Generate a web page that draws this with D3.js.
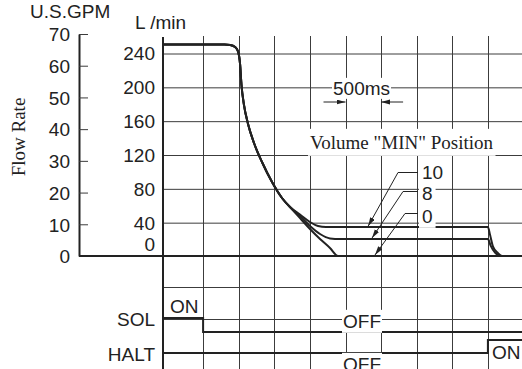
<!DOCTYPE html>
<html><head><meta charset="utf-8">
<script src="https://cdn.jsdelivr.net/npm/d3@7"></script>
<style>html,body{margin:0;padding:0;background:#fff;}svg{display:block;}</style>
</head><body>
<svg id="c" width="522" height="369"></svg>
<script>
// ---------- data ----------
const timeGrid = [500,1000,1500,2000,2500,3000,3500,4000,4500];   // ms
const lpmTicks = [0,40,80,120,160,200,240];                        // L/min
const gpmTicks = [0,10,20,30,40,50,60,70];                         // U.S.GPM
// common deceleration part of the flow curve (ms, L/min)
const flowCommon = [[-62,250],[800,250],[880,249.5],[950,247],[990,242],[1018,228],[1039,202.2],[1074,178.6],[1131,156.1],[1215,133.6],[1327,111.1],[1468,87.5],[1608,68.6],[1720,57.9]];
const flow10 = [[1861,49.1],[2001,40.2],[2114,35.4],[2226,34.3],[4500,34.3],[4530,25],[4572,11],[4640,3.5],[4700,0],[5000,0]];
const flow8  = [[1861,47.3],[2001,35.5],[2142,26.0],[2282,20.8],[2423,20.1],[4500,20],[4540,12],[4600,4],[4680,0],[5000,0]];
const flow0  = [[1861,44.9],[2001,31.9],[2142,20.1],[2282,9.5],[2395,0],[5000,0]];
const solStates  = [[-62,1],[500,0],[5000,0]];   // 1 = ON
const haltStates = [[-62,0],[4500,1],[5000,1]];
const volumeLabels = ["10","8","0"];
const volumeLevels = [34,20,0];
const volumeTipTimes = [2817,2872,2914];
const spanMs = [2500,3000];

// ---------- setup ----------
const svg = d3.select("#c");
const SANS = "'Liberation Sans', Arial, Helvetica, sans-serif";
const SERIF = "'Liberation Serif', 'Times New Roman', serif";
const INK = "#222", GRID = "#3c3c3c";
const FS = 19;

const x = d3.scaleLinear().domain([0,5000]).range([167.5,523.5]);
const yL = d3.scaleLinear().domain([0,240]).range([256,53]);
const yG = d3.scaleLinear().domain([0,70]).range([256,34]);
const ySol = d3.scaleLinear().domain([0,1]).range([332,318]);
const yHalt = d3.scaleLinear().domain([0,1]).range([353,340]);

const AX = 163, GTOP = 36, GBOT = 369, GRIGHT = 522, GPMX = 79;

svg.append("defs").append("marker")
  .attr("id","ah").attr("markerUnits","userSpaceOnUse")
  .attr("markerWidth",10).attr("markerHeight",6)
  .attr("refX",9).attr("refY",2.5).attr("orient","auto")
  .append("path").attr("d","M0,0 L9,2.5 L0,5 Z").attr("fill",INK);

// ---------- grid ----------
const grid = svg.append("g");
grid.selectAll("line.v").data(timeGrid).join("line")
  .attr("x1",d=>Math.round(x(d))+0.5).attr("x2",d=>Math.round(x(d))+0.5)
  .attr("y1",GTOP).attr("y2",GBOT).attr("stroke",GRID).attr("stroke-width",1);

// L/min axis with gridlines
const axL = svg.append("g").attr("transform",`translate(${AX},0)`)
  .call(d3.axisLeft(yL).tickValues(lpmTicks).tickSize(-(GRIGHT-AX)).tickPadding(8).tickSizeOuter(0));
axL.select(".domain").remove();
axL.selectAll(".tick line").attr("stroke",GRID).attr("stroke-width",1)
  .attr("transform","translate(0,0.5)");
axL.selectAll(".tick text").attr("font-family",SANS).attr("font-size",FS).attr("fill",INK)
  .attr("dy",d=>d===0?"-0.3em":"0.36em");
axL.selectAll(".tick").filter(d=>d===0).select("line").remove();

// lower thin gridlines
[287,319].forEach(yy=>{
  svg.append("line").attr("x1",AX).attr("x2",GRIGHT).attr("y1",yy+0.5).attr("y2",yy+0.5)
    .attr("stroke",GRID).attr("stroke-width",1);
});

// GPM axis
const axG = svg.append("g").attr("transform",`translate(${GPMX},0)`)
  .call(d3.axisLeft(yG).tickValues(gpmTicks).tickSize(-9).tickPadding(9).tickSizeOuter(0));
axG.select(".domain").attr("stroke",INK).attr("stroke-width",2);
axG.selectAll(".tick line").attr("stroke",GRID).attr("stroke-width",1);
axG.selectAll(".tick text").attr("font-family",SANS).attr("font-size",FS).attr("fill",INK).attr("dy","0.36em");

// main L/min axis line and baseline
svg.append("line").attr("x1",AX).attr("x2",AX).attr("y1",GTOP+1).attr("y2",GBOT)
  .attr("stroke",INK).attr("stroke-width",2);
svg.append("line").attr("x1",GPMX).attr("x2",GRIGHT).attr("y1",yL(0)).attr("y2",yL(0))
  .attr("stroke",INK).attr("stroke-width",2);

// ---------- flow curves ----------
const line = d3.line().x(d=>x(d[0])).y(d=>yL(d[1])).curve(d3.curveMonotoneX);
[flow10, flow8, flow0].forEach(br=>{
  svg.append("path").datum(flowCommon.concat(br)).attr("d",line)
    .attr("fill","none").attr("stroke",INK).attr("stroke-width",2).attr("stroke-linejoin","round");
});

// ---------- signals ----------
const sLine = (ys)=>d3.line().x(d=>Math.max(AX,x(d[0]))).y(d=>ys(d[1])).curve(d3.curveStepAfter);
svg.append("path").datum(solStates).attr("d",sLine(ySol)).attr("fill","none").attr("stroke",INK).attr("stroke-width",2);
svg.append("path").datum(haltStates).attr("d",sLine(yHalt)).attr("fill","none").attr("stroke",INK).attr("stroke-width",2);

// ---------- text helpers ----------
function label(tx,ty,str,opt={}){
  const g = svg.append("g");
  const t = g.append("text").attr("x",tx).attr("y",ty).text(str)
    .attr("font-family",opt.font||SANS).attr("font-size",opt.size||FS).attr("fill",INK)
    .attr("text-anchor",opt.anchor||"start").attr("dy",opt.dy||"0.36em");
  if(opt.bg){
    const b = t.node().getBBox();
    const p = opt.pad||[1,1];
    g.insert("rect","text").attr("x",b.x-p[0]).attr("y",b.y-p[1])
      .attr("width",b.width+2*p[0]).attr("height",b.height+2*p[1]).attr("fill","#fff");
  }
  return t;
}

label(30,11,"U.S.GPM");
label(135,22,"L /min");
svg.append("text").attr("transform","translate(25,137) rotate(-90)").attr("text-anchor","middle")
  .attr("font-family",SERIF).attr("font-size",FS).attr("fill",INK).text("Flow Rate");

// 500ms marker
label(333,88,"500ms",{bg:true,pad:[1,0]});
svg.append("line").attr("x1",x(spanMs[0])-22).attr("x2",x(spanMs[0])).attr("y1",102).attr("y2",102)
  .attr("stroke",INK).attr("stroke-width",1).attr("marker-end","url(#ah)");
svg.append("line").attr("x1",x(spanMs[1])+22).attr("x2",x(spanMs[1])).attr("y1",102).attr("y2",102)
  .attr("stroke",INK).attr("stroke-width",1).attr("marker-end","url(#ah)");

label(310,142,'Volume "MIN" Position',{font:SERIF,bg:true,pad:[2,3]});

// volume leaders
const labY = [172,193,216], leadY=[172,191,213], bendX=[398,403,405];
volumeLabels.forEach((s,i)=>{
  label(422,labY[i],s,{bg:true,pad:[3,1]});
  const tipX = x(volumeTipTimes[i]), tipY = yL(volumeLevels[i]);
  svg.append("path").attr("d",`M418,${leadY[i]+0.5} L${bendX[i]},${leadY[i]+0.5} L${tipX},${tipY-1}`)
    .attr("fill","none").attr("stroke",INK).attr("stroke-width",1).attr("marker-end","url(#ah)");
});

// signal labels
label(155,319,"SOL",{anchor:"end"});
label(155,354,"HALT",{anchor:"end"});
label(170,306,"ON");
label(343,321,"OFF",{bg:true,pad:[1,1]});
label(343,364,"OFF",{bg:true,pad:[1,1]});
label(492,352,"ON");
</script>
</body></html>
